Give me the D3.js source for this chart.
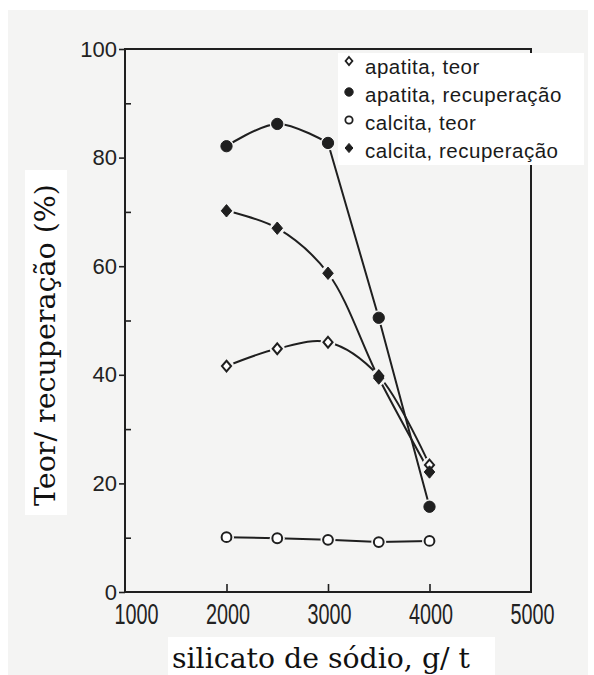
<!DOCTYPE html>
<html>
<head>
<meta charset="utf-8">
<script src="https://cdn.jsdelivr.net/npm/d3@7/dist/d3.min.js"></script>
<style>
  html, body { margin: 0; padding: 0; background: #ffffff; }
  svg { display: block; }
</style>
</head>
<body>
<svg id="chart" width="594" height="675"></svg>
<script>
// Sodium silicate dosage (g/t) and measured grade / recovery (%)
const dosages = [2000, 2500, 3000, 3500, 4000];
const apatitaTeor = [41.6, 44.8, 46.0, 39.8, 23.4];
const apatitaRecuperacao = [82.1, 86.2, 82.7, 50.5, 15.7];
const calcitaTeor = [10.1, 9.9, 9.6, 9.2, 9.4];
const calcitaRecuperacao = [70.2, 67.0, 58.7, 39.4, 22.1];

const seriesNames = ["apatita, teor", "apatita, recuperação", "calcita, teor", "calcita, recuperação"];
const xTickValues = [1000, 2000, 3000, 4000, 5000];
const xInnerTicks = [2000, 3000, 4000];
const yTickValues = [0, 20, 40, 60, 80, 100];
const yMinorTicks = [10, 30, 50, 70, 90];

const paper = "#f4f4f3";
const ink = "#1f1f1f";

const svg = d3.select("#chart");

// paper background with the white scan border
svg.append("rect").attr("width", 594).attr("height", 675).attr("fill", "#ffffff");
svg.append("rect").attr("x", 8).attr("y", 10).attr("width", 580).attr("height", 665).attr("fill", paper);

const x = d3.scaleLinear().domain([1000, 5000]).range([125, 531]);
const y = d3.scaleLinear().domain([0, 100]).range([592, 49]);

// diamond marker shape
const diamondShape = {
  draw(ctx, size) {
    const h = Math.sqrt(size) * 0.62;
    const w = h * 0.85;
    ctx.moveTo(0, -h);
    ctx.lineTo(w, 0);
    ctx.lineTo(0, h);
    ctx.lineTo(-w, 0);
    ctx.closePath();
  }
};

const series = [
  { name: seriesNames[0], values: apatitaTeor, shape: diamondShape, filled: false, curve: d3.curveCatmullRom.alpha(0.5), straightFrom: null },
  { name: seriesNames[1], values: apatitaRecuperacao, shape: d3.symbolCircle, filled: true, curve: d3.curveCatmullRom.alpha(0.5), straightFrom: 2 },
  { name: seriesNames[2], values: calcitaTeor, shape: d3.symbolCircle, filled: false, curve: d3.curveLinear, straightFrom: null },
  { name: seriesNames[3], values: calcitaRecuperacao, shape: diamondShape, filled: true, curve: d3.curveCatmullRom.alpha(0.5), straightFrom: null }
];

// frame
svg.append("rect")
  .attr("x", x(1000)).attr("y", y(100))
  .attr("width", x(5000) - x(1000)).attr("height", y(0) - y(100))
  .attr("fill", "none").attr("stroke", ink).attr("stroke-width", 2);

// y axis: outward major ticks with labels, inward minor ticks
const yMajor = svg.append("g").attr("transform", `translate(${x(1000)},0)`)
  .call(d3.axisLeft(y).tickValues(yTickValues).tickSize(6).tickPadding(2).tickFormat(d3.format("d")));
const yMinor = svg.append("g").attr("transform", `translate(${x(1000)},0)`)
  .call(d3.axisLeft(y).tickValues(yMinorTicks).tickSize(-6).tickFormat(""));

// x axis: inward ticks, labels below
const xInner = svg.append("g").attr("transform", `translate(0,${y(0)})`)
  .call(d3.axisBottom(x).tickValues(xInnerTicks).tickSize(-8).tickFormat(""));
const xLab = svg.append("g").attr("transform", `translate(0,${y(0)})`)
  .call(d3.axisBottom(x).tickValues(xTickValues).tickSize(0).tickFormat(d3.format("d")));

[yMajor, yMinor, xInner, xLab].forEach(g => {
  g.select(".domain").remove();
  g.selectAll(".tick line").attr("stroke", ink).attr("stroke-width", 1.6);
});

yMajor.selectAll(".tick text")
  .attr("font-family", "'Liberation Sans', Arial, sans-serif")
  .attr("font-size", 22)
  .attr("fill", "#222");

xLab.selectAll(".tick text")
  .attr("font-family", "'Liberation Sans', Arial, sans-serif")
  .attr("font-size", 22)
  .attr("fill", "#222")
  .attr("y", 0).attr("dy", 0)
  .attr("transform", (d, i) => `translate(${i === 0 ? 11 : 1},32) scale(0.9,1.35)`);

// curves
const line = d3.line().x((d) => x(d[0])).y((d) => y(d[1]));
const plot = svg.append("g");
series.forEach(s => {
  const pts = dosages.map((d, i) => [d, s.values[i]]);
  let parts;
  if (s.straightFrom !== null) {
    parts = [
      { pts: pts.slice(0, s.straightFrom + 1), curve: s.curve },
      { pts: pts.slice(s.straightFrom), curve: d3.curveLinear }
    ];
  } else {
    parts = [{ pts, curve: s.curve }];
  }
  parts.forEach(p => {
    plot.append("path")
      .attr("d", line.curve(p.curve)(p.pts))
      .attr("fill", "none")
      .attr("stroke", ink)
      .attr("stroke-width", 2);
  });
});

// small gaps where lines meet the markers
series.forEach(s => {
  plot.selectAll(null).data(dosages.map((d, i) => [d, s.values[i]])).join("circle")
    .attr("cx", d => x(d[0])).attr("cy", d => y(d[1]))
    .attr("r", 7.5).attr("fill", paper);
});

// markers
series.forEach(s => {
  const sym = d3.symbol().type(s.shape).size(s.filled ? 100 : 75);
  plot.selectAll(null).data(dosages.map((d, i) => [d, s.values[i]])).join("path")
    .attr("d", sym)
    .attr("transform", d => `translate(${x(d[0])},${y(d[1])})`)
    .attr("fill", s.filled ? ink : "#ffffff")
    .attr("stroke", ink)
    .attr("stroke-width", s.filled ? 1 : 2);
});

// legend
svg.append("rect").attr("x", 338).attr("y", 53).attr("width", 246).attr("height", 112).attr("fill", "#ffffff");
const legend = svg.append("g");
series.forEach((s, i) => {
  const baseY = 74 + i * 28;
  legend.append("path")
    .attr("d", d3.symbol().type(s.shape).size(s.filled ? 55 : 42)())
    .attr("transform", `translate(349,${baseY - (i === 0 ? 13 : 10)})`)
    .attr("fill", s.filled ? ink : "#ffffff")
    .attr("stroke", ink)
    .attr("stroke-width", s.filled ? 1 : 1.8);
  legend.append("text")
    .attr("x", 365).attr("y", baseY)
    .attr("font-family", "'Liberation Sans', Arial, sans-serif")
    .attr("font-size", 20.5)
    .attr("letter-spacing", 0.5)
    .attr("fill", "#1a1a1a")
    .text(s.name);
});

// axis titles on white label strips
svg.append("rect").attr("x", 25).attr("y", 170).attr("width", 42).attr("height", 345).attr("fill", "#ffffff");
svg.append("text")
  .attr("transform", "translate(55,345) rotate(-90)")
  .attr("text-anchor", "middle")
  .attr("font-family", "'DejaVu Serif', serif")
  .attr("font-size", 27)
  .attr("textLength", 322)
  .attr("lengthAdjust", "spacingAndGlyphs")
  .attr("fill", "#111")
  .text("Teor/ recuperação (%)");

svg.append("rect").attr("x", 168).attr("y", 637).attr("width", 327).attr("height", 38).attr("fill", "#ffffff");
svg.append("text")
  .attr("x", 321).attr("y", 668)
  .attr("text-anchor", "middle")
  .attr("font-family", "'DejaVu Serif', serif")
  .attr("font-size", 27)
  .attr("textLength", 298)
  .attr("lengthAdjust", "spacingAndGlyphs")
  .attr("fill", "#111")
  .text("silicato de sódio, g/ t");
</script>
</body>
</html>
